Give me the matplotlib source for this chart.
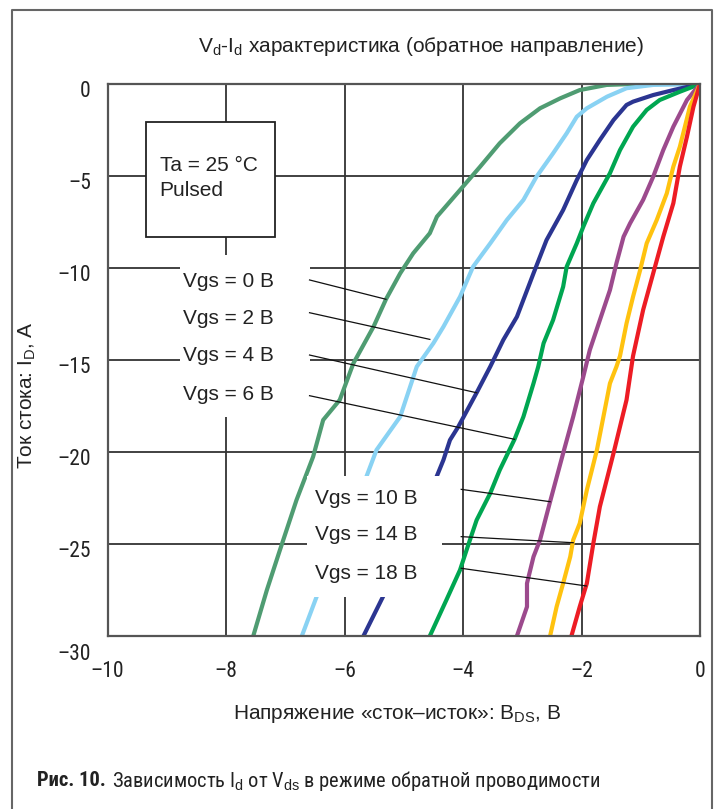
import matplotlib
matplotlib.use('Agg')
import matplotlib.pyplot as plt
import matplotlib.transforms as mtransforms
from matplotlib import font_manager
from matplotlib.patches import Rectangle

installed = {f.name for f in font_manager.fontManager.ttflist}
REG = 'Liberation Sans' if 'Liberation Sans' in installed else 'DejaVu Sans'

# a condensed face for ticks and caption, if there is one
narrow = None
for cand in ['Liberation Sans Narrow', 'Roboto Condensed', 'Open Sans Condensed']:
    if cand in installed:
        narrow = dict(family=[cand, 'DejaVu Sans'], fontstretch='normal')
        break
if narrow is None:
    for f in font_manager.fontManager.ttflist:
        if f.name == 'DejaVu Sans' and f.stretch == 'condensed' and f.style == 'normal':
            narrow = dict(family=['DejaVu Sans'], fontstretch='condensed')
            break
if narrow is None:
    narrow = dict(family=[REG, 'DejaVu Sans'], fontstretch='normal')
    cap_size = 13.3
else:
    cap_size = 14.8

plt.rcParams['font.family'] = [REG, 'DejaVu Sans']
plt.rcParams['mathtext.fontset'] = 'custom'
plt.rcParams['mathtext.rm'] = REG
plt.rcParams['mathtext.it'] = REG

# data (Vds in V, Id in A)
vgs_labels = ['Vgs = 0 В', 'Vgs = 2 В', 'Vgs = 4 В', 'Vgs = 6 В',
              'Vgs = 10 В', 'Vgs = 14 В', 'Vgs = 18 В']
colors = ['#4f9c72', '#89d2f3', '#2b3591', '#00a651', '#9c4a8d', '#ffc20f', '#ed1c24']

vgs0_x = [0, -1.13, -1.575, -2.03, -2.36, -2.70, -3.04, -3.38, -3.71, -4.05, -4.44, -4.56,
          -4.84, -5.06, -5.30, -5.51, -5.85, -6.08, -6.36, -6.53, -6.81, -7.09, -7.31, -7.54]
vgs0_y = [0, 0, -0.05, -0.33, -0.78, -1.32, -2.14, -3.22, -4.49, -5.76, -7.21, -8.11,
          -9.20, -10.29, -11.70, -13.19, -15.18, -17.17, -18.26, -20.26, -22.61, -25.33, -27.5, -30]

vgs2_x = [0, -0.79, -1.24, -1.57, -1.91, -2.08, -2.25, -2.48, -2.76, -2.98, -3.26, -3.54,
          -3.83, -4.05, -4.33, -4.50, -4.78, -5.06, -5.46, -5.63, -6.47, -6.72]
vgs2_y = [0, -0.05, -0.23, -0.69, -1.32, -1.78, -2.68, -3.77, -5.04, -6.30, -7.39, -8.66,
          -9.93, -11.56, -13.19, -14.09, -15.36, -18.08, -19.89, -21.34, -27.86, -30]

vgs4_x = [0, -0.45, -0.79, -1.13, -1.24, -1.46, -1.69, -1.91, -2.08, -2.31, -2.59, -2.81,
          -3.09, -3.32, -3.54, -3.77, -4.08, -4.22, -4.33, -4.44, -5.35, -5.68]
vgs4_y = [0, -0.33, -0.60, -0.96, -1.14, -1.96, -3.04, -4.13, -5.22, -6.85, -8.48, -10.29,
          -12.65, -13.91, -15.36, -16.78, -18.63, -19.35, -20.43, -21.30, -27.86, -30]

vgs6_x = [0, -0.34, -0.68, -0.90, -1.13, -1.35, -1.52, -1.80, -1.97, -2.08, -2.25, -2.31,
          -2.48, -2.64, -2.73, -2.81, -2.98, -3.13, -3.38, -3.54, -3.77, -3.94, -4.05, -4.28, -4.56]
vgs6_y = [0, -0.42, -0.87, -1.41, -2.32, -3.59, -4.85, -6.48, -7.76, -8.66, -9.93, -11.02,
          -12.83, -14.09, -15.36, -16.27, -18.08, -19.31, -20.98, -22.24, -23.70, -25.33, -26.41, -28.04, -30]

vgs10_x = [0, -0.22, -0.45, -0.62, -0.79, -0.96, -1.18, -1.29, -1.41, -1.52, -1.69, -1.86,
           -1.97, -2.14, -2.31, -2.53, -2.70, -2.81, -2.92, -2.92, -3.09]
vgs10_y = [0, -0.87, -2.32, -3.59, -5.04, -6.30, -7.57, -8.30, -9.74, -11.20, -12.83, -14.46,
           -15.91, -18.08, -20.07, -22.70, -24.78, -25.69, -27.14, -28.41, -30]

vgs14_x = [0, -0.17, -0.34, -0.45, -0.56, -0.73, -0.90, -1.01, -1.13, -1.24, -1.35, -1.41,
           -1.52, -1.63, -1.74, -1.91, -2.03, -2.14, -2.19, -2.31, -2.42, -2.53]
vgs14_y = [0, -1.23, -3.41, -4.49, -5.94, -7.39, -8.66, -10.11, -11.56, -13.01, -14.78, -15.36,
           -16.27, -18.08, -19.89, -22.07, -23.88, -24.78, -25.69, -27.14, -28.41, -30]

vgs18_x = [0, -0.11, -0.22, -0.34, -0.45, -0.62, -0.79, -0.96, -1.13, -1.24, -1.46, -1.69,
           -1.80, -1.91, -2.03, -2.17]
vgs18_y = [0, -1.23, -2.86, -4.49, -6.48, -8.30, -10.29, -12.28, -14.78, -17.17, -20.07, -22.97,
           -24.96, -27.14, -28.41, -30]

curves_x = [vgs0_x, vgs2_x, vgs4_x, vgs6_x, vgs10_x, vgs14_x, vgs18_x]
curves_y = [vgs0_y, vgs2_y, vgs4_y, vgs6_y, vgs10_y, vgs14_y, vgs18_y]

x_ticks = [-10, -8, -6, -4, -2, 0]
x_tick_labels = ['–10', '–8', '–6', '–4', '–2', '0']
y_ticks = [0, -5, -10, -15, -20, -25, -30]
y_tick_labels = ['0', '–5', '–10', '–15', '–20', '–25', '–30']

fig = plt.figure(figsize=(7.14, 8.09), dpi=100)
ax = fig.add_axes([107.5 / 714, 1 - 636 / 809, 592.5 / 714, 552 / 809])
ax.set_xlim(-10, 0)
ax.set_ylim(-30, 0)

# grid
for x in x_ticks[1:-1]:
    ax.axvline(x, color='#333333', lw=1.3, zorder=1)
for y in y_ticks[1:-1]:
    ax.axhline(y, color='#333333', lw=1.3, zorder=1)

for cx, cy, c in zip(curves_x, curves_y, colors):
    ax.plot(cx, cy, color=c, lw=3.0, zorder=3, solid_capstyle='round', solid_joinstyle='round')

# white areas behind the labels
ax.add_patch(Rectangle((-8.77, -18.10), 2.18, 8.81, facecolor='white', edgecolor='none', zorder=4))
ax.add_patch(Rectangle((-6.63, -27.88), 2.28, 6.58, facecolor='white', edgecolor='none', zorder=4))
ax.add_patch(Rectangle((-9.35, -8.30), 2.17, 6.25, facecolor='white', edgecolor='#222222',
                       lw=1.3, zorder=4))
ax.text(-9.12, -5.1, 'Ta = 25 °C\nPulsed', fontsize=15, va='center', ha='left',
        linespacing=1.4, zorder=5, color='#222222')

label_pos = [(-8.73, -10.76), (-8.73, -12.76), (-8.73, -14.73), (-8.73, -16.85),
             (-6.50, -22.55), (-6.50, -24.50), (-6.50, -26.63)]
leaders = [((-6.59, -10.65), (-5.30, -11.70)), ((-6.59, -12.43), (-4.56, -13.88)),
           ((-6.59, -14.73), (-3.77, -16.78)), ((-6.59, -16.94), (-3.13, -19.31)),
           ((-4.03, -22.03), (-2.53, -22.70)), ((-4.03, -24.60), (-2.14, -24.93)),
           ((-4.03, -26.32), (-1.92, -27.28))]
for lab, (tx, ty), (p0, p1) in zip(vgs_labels, label_pos, leaders):
    ax.text(tx, ty, lab, fontsize=15, va='center', ha='left', zorder=5, color='#222222')
    ax.plot([p0[0], p1[0]], [p0[1], p1[1]], color='#111111', lw=0.9, zorder=6)

for s in ax.spines.values():
    s.set_color('#555555')
    s.set_linewidth(1.6)
    s.set_zorder(7)

ax.set_xticks(x_ticks, x_tick_labels)
ax.set_yticks(y_ticks, y_tick_labels)
ax.tick_params(length=0, labelsize=15.5, colors='#222222')
ax.tick_params(axis='x', pad=18)
ax.tick_params(axis='y', pad=12)
for lab in ax.get_xticklabels() + ax.get_yticklabels():
    lab.set_fontfamily(narrow['family'])
    lab.set_fontstretch(narrow['fontstretch'])
for i, lab in enumerate(ax.get_yticklabels()):
    dy = -16 if i == len(y_ticks) - 1 else -5
    lab.set_transform(lab.get_transform() + mtransforms.ScaledTranslation(0, dy / 100, fig.dpi_scale_trans))

fig.text(421 / 714, 1 - 46 / 809, r'$\mathrm{V_d}$-$\mathrm{I_d}$ характеристика (обратное направление)',
         fontsize=15, ha='center', va='center', color='#222222')
fig.text(397 / 714, 1 - 714 / 809, r'Напряжение «сток–исток»: B$_\mathrm{DS}$, B',
         fontsize=15, ha='center', va='center', color='#222222')
fig.text(27 / 714, 1 - 395 / 809, r'Ток стока: I$_\mathrm{D}$, A', rotation=90,
         fontsize=15, ha='center', va='center', color='#222222')

# outer frame (open at the bottom)
fig.add_artist(plt.Line2D([12 / 714, 12 / 714, 712 / 714, 712 / 714],
                          [0, 1 - 10 / 809, 1 - 10 / 809, 0],
                          color='#666666', lw=1.5, transform=fig.transFigure))

# caption
cap1 = fig.text(37 / 714, 1 - 781 / 809, 'Рис. 10.', fontsize=cap_size, fontweight='bold',
                ha='left', va='center', color='#222222', **narrow)
fig.canvas.draw()
bb = cap1.get_window_extent(fig.canvas.get_renderer())
fig.text(bb.x1 / fig.bbox.width + 6 / 714, 1 - 781 / 809,
         r'Зависимость I$_\mathrm{d}$ от V$_\mathrm{ds}$ в режиме обратной проводимости',
         fontsize=cap_size, ha='left', va='center', color='#222222', **narrow)

fig.savefig('out.png', dpi=100)
